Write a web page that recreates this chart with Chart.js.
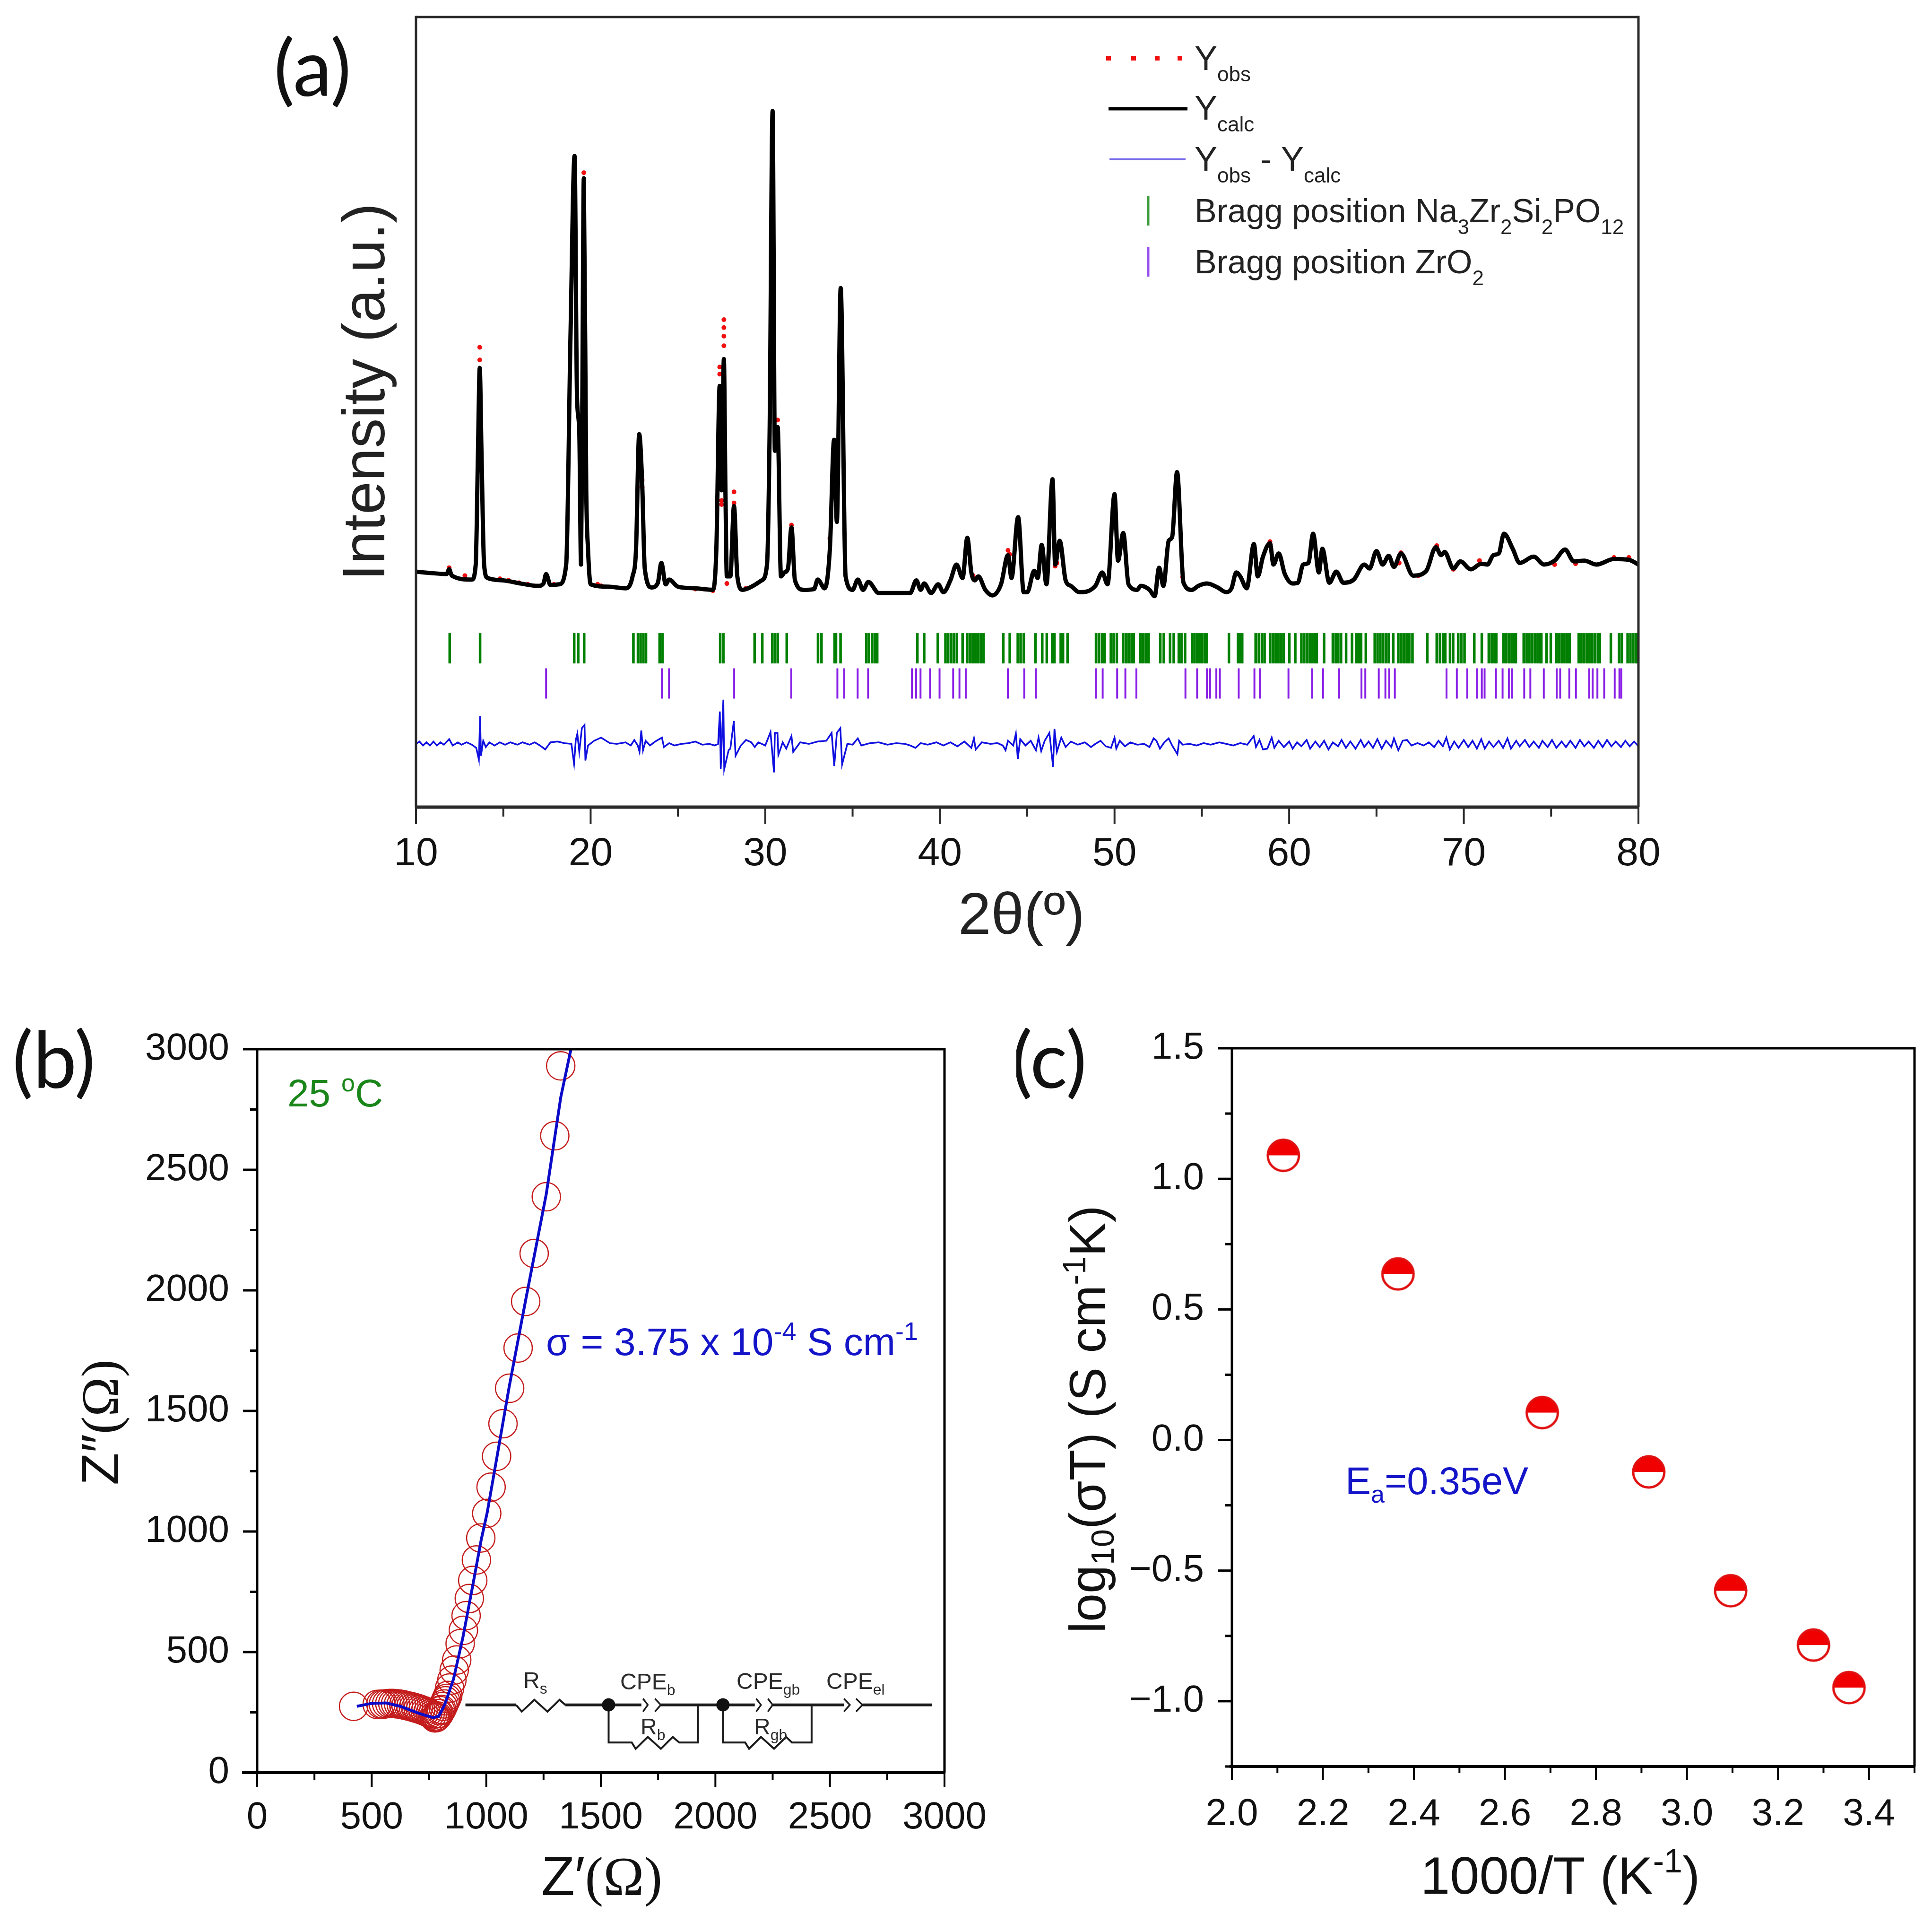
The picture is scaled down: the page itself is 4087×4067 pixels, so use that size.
<!DOCTYPE html>
<html>
<head>
<meta charset="utf-8">
<title>XRD, impedance and Arrhenius plots</title>
<script src="https://cdn.jsdelivr.net/npm/chart.js@4"></script>
<style>
    html, body { margin: 0; padding: 0; background: #fff; }
    #page { position: relative; width: 4087px; height: 4067px; background: #fff; overflow: hidden; }
    canvas { position: absolute; }
</style>
</head>
<body>
<div id="page">
    <canvas id="chartA" width="4087" height="2100" style="left:0;top:0"></canvas>
    <canvas id="chartB" width="2150" height="1967" style="left:0;top:2100px"></canvas>
    <canvas id="chartC" width="1937" height="1967" style="left:2150px;top:2100px"></canvas>
</div>
<script>
// (a) diffraction pattern, y in arbitrary units
const calcPattern = [[10,298],[11,296],[11.75,295],[11.9,301],[12.05,293],[13.2,288],[13.42,307],[13.55,450],[13.65,556],[13.75,450],[13.9,307],[14.1,290],[15,287],[16,283],[17,280],[17.3,283],[17.45,295],[17.7,281],[18.2,282],[18.6,307],[18.85,600],[19.08,824],[19.22,520],[19.35,476],[19.45,307],[19.52,500],[19.61,796],[19.75,400],[19.85,327],[20,282],[21,279],[22,277],[22.4,292],[22.6,327],[22.78,472],[22.95,411],[23.1,302],[23.5,278],[23.85,284],[24.05,309],[24.3,282],[24.5,288],[25,279],[26,277],[27,275],[27.2,327],[27.39,533],[27.5,401],[27.63,567],[27.72,400],[27.8,292],[28,292],[28.21,381],[28.4,292],[28.7,275],[29.3,280],[29.8,287],[30.1,307],[30.25,476],[30.42,881],[30.55,451],[30.71,481],[30.9,292],[31.1,297],[31.3,302],[31.5,354],[31.7,287],[32.2,275],[32.8,276],[33,288],[33.4,277],[33.7,327],[33.94,465],[34.1,361],[34.32,657],[34.6,292],[35,275],[35.3,288],[35.6,275],[35.9,285],[36.5,271],[38.3,271],[38.65,287],[38.9,275],[39.1,283],[39.5,271],[39.9,282],[40.2,272],[40.6,287],[40.95,307],[41.3,290],[41.57,341],[41.8,297],[42,287],[42.2,292],[42.6,275],[43,268],[43.5,282],[43.9,319],[44.1,290],[44.48,367],[44.8,272],[45,272],[45.4,299],[45.6,290],[45.83,332],[46.1,282],[46.45,415],[46.6,307],[46.86,337],[47.2,287],[47.5,280],[48,272],[48.9,280],[49.3,297],[49.6,282],[50,396],[50.2,312],[50.5,347],[50.8,282],[51.3,275],[51.5,280],[52,275],[52.3,267],[52.55,303],[52.8,280],[53.1,337],[53.3,342],[53.58,424],[53.95,284],[54.43,275],[54.8,280],[55.3,283],[55.9,278],[56.4,272],[56.7,277],[56.97,297],[57.2,292],[57.57,277],[57.98,333],[58.2,292],[58.5,317],[58.9,334],[59.1,307],[59.4,321],[59.75,295],[60.2,283],[60.5,284],[60.8,307],[61.1,309],[61.37,346],[61.7,297],[61.9,327],[62.3,284],[62.7,298],[63.1,284],[63.7,288],[64.3,307],[64.6,302],[65,324],[65.35,307],[65.7,318],[66,304],[66.4,321],[67.1,293],[67.85,299],[68.4,329],[68.7,319],[68.9,323],[69.4,302],[69.8,311],[70.4,301],[71,308],[71.35,307],[71.7,319],[72,321],[72.3,346],[72.8,327],[73.2,309],[74,317],[74.6,307],[75.2,312],[75.8,326],[76.3,311],[76.9,312],[77.6,307],[78.6,314],[79.45,313],[80,307]];

// red points that stand clear of the fitted line
const obsPattern = [[11.9,303],[12.8,293],[13.65,582],[13.65,566],[14.8,289],[15.3,287],[15.9,284],[16.4,282],[17.9,282],[19.61,803],[20.4,282],[20.6,280],[22.95,414],[22.95,405],[26,276],[26.5,276],[27,274],[27.39,557],[27.39,548],[27.5,388],[27.5,383],[27.63,617],[27.63,607],[27.63,596],[27.63,584],[27.8,283],[28.21,399],[28.21,385],[28.9,277],[30.71,490],[31.5,357],[33.7,340],[41.9,293],[43.9,325],[44,320],[46.6,305],[46.7,309],[53.9,291],[58.9,336],[66.3,309],[66.4,322],[67.4,293],[68.45,331],[69.4,301],[70.9,312],[75.2,307],[76.4,308],[78.6,316],[79.45,316]];

const diffPattern = [[10,80],[10.2,83],[10.4,78],[10.6,82],[10.8,78],[11,83],[11.2,78],[11.4,82],[11.6,79],[11.9,86],[12.1,78],[12.4,82],[12.6,79],[12.9,82],[13.2,79],[13.45,75],[13.6,60],[13.67,115],[13.72,65],[13.85,84],[14,76],[14.2,82],[14.5,78],[14.8,82],[15.1,79],[15.4,82],[15.8,79],[16.1,82],[16.5,79],[16.8,82],[17.1,78],[17.4,73],[17.7,82],[18.1,83],[18.5,81],[18.9,80],[19.05,55],[19.15,85],[19.24,93],[19.35,70],[19.5,100],[19.65,104],[19.7,59],[19.85,78],[20.2,84],[20.6,88],[21.1,81],[21.5,80],[22,82],[22.3,78],[22.5,85],[22.7,78],[22.8,70],[22.9,97],[23,72],[23.15,84],[23.4,78],[23.7,83],[24.08,88],[24.2,76],[24.5,81],[24.8,78],[25.2,80],[25.6,81],[26,83],[26.4,79],[26.8,80],[27.1,78],[27.3,80],[27.4,121],[27.45,48],[27.6,136],[27.65,48],[27.9,72],[28,74],[28.2,109],[28.3,65],[28.6,78],[28.9,85],[29.2,82],[29.4,76],[29.6,82],[30,78],[30.3,95],[30.5,44],[30.55,94],[30.7,94],[30.75,66],[31,82],[31.2,74],[31.5,90],[31.6,70],[32,82],[32.5,80],[33,83],[33.5,84],[33.8,94],[33.95,52],[34.1,94],[34.3,100],[34.4,54],[34.7,80],[35,79],[35.3,87],[35.5,78],[36,81],[36.5,82],[37,79],[37.5,81],[38,80],[38.3,78],[38.6,75],[38.9,81],[39.3,79],[39.8,82],[40.2,78],[40.6,82],[41,77],[41.4,83],[41.8,75],[41.95,87],[42.05,73],[42.4,82],[42.9,80],[43.3,81],[43.6,78],[43.76,72],[43.9,84],[44.2,78],[44.35,93],[44.46,61],[44.6,86],[44.9,78],[45.2,84],[45.5,72],[45.65,88],[45.8,71],[46,84],[46.27,94],[46.48,51],[46.56,99],[46.7,70],[46.95,88],[47.2,76],[47.5,83],[47.9,79],[48.3,82],[48.65,76],[48.9,80],[49.2,84],[49.5,77],[49.8,75],[50,88],[50.1,74],[50.3,84],[50.6,77],[50.9,82],[51.3,79],[51.7,80],[52,76],[52.24,87],[52.4,84],[52.6,74],[52.85,82],[53.1,87],[53.3,78],[53.6,67],[53.7,84],[53.9,79],[54.3,80],[54.7,78],[55.1,81],[55.5,79],[56,82],[56.4,80],[56.8,78],[57.2,81],[57.6,79],[57.97,90],[58.1,76],[58.3,85],[58.5,73],[58.75,74],[59,88],[59.15,75],[59.4,84],[59.7,76],[60,83],[60.2,74],[60.45,82],[60.7,77],[61,85],[61.2,74],[61.5,83],[61.75,76],[62,84],[62.25,73],[62.5,82],[62.8,77],[63,85],[63.25,75],[63.5,83],[63.8,74],[64.1,85],[64.3,76],[64.55,83],[64.8,75],[65.05,86],[65.3,74],[65.55,84],[65.85,76],[66,87],[66.25,72],[66.5,84],[66.75,85],[67,78],[67.35,81],[67.7,78],[68,82],[68.3,76],[68.55,84],[68.8,77],[69,88],[69.2,73],[69.45,83],[69.7,75],[70,85],[70.25,76],[70.5,84],[70.75,74],[71,86],[71.2,74],[71.45,83],[71.7,76],[72,84],[72.25,75],[72.5,87],[72.7,74],[73,84],[73.2,77],[73.5,85],[73.75,76],[74,83],[74.3,75],[74.5,84],[74.8,76],[75.05,85],[75.3,75],[75.6,83],[75.85,76],[76.1,84],[76.4,75],[76.65,85],[76.9,77],[77.15,83],[77.45,75],[77.7,84],[77.95,76],[78.2,85],[78.45,77],[78.7,83],[79,76],[79.25,84],[79.5,77],[79.75,83],[80,77]];

const braggNasicon = [11.93,13.67,19.06,19.29,19.63,22.45,22.71,22.86,23.02,23.17,23.95,24.11,27.42,27.6,29.39,29.83,30.4,30.55,30.71,31.23,33.02,33.22,33.97,34.05,34.31,35.79,35.94,36.12,36.28,36.41,38.71,39.1,39.88,40.32,40.47,40.63,40.79,40.97,41.3,41.56,41.72,41.87,42.03,42.18,42.34,42.5,43.63,44,44.46,44.62,44.8,45.47,45.86,46.12,46.43,46.56,46.92,47.05,47.31,48.94,49.1,49.28,49.43,49.79,49.95,50.13,50.49,50.65,50.8,50.98,51.1,51.48,51.63,51.79,51.95,52.62,52.82,53.18,53.39,53.68,53.83,54.04,54.44,54.58,54.73,54.87,55.02,55.18,55.29,56.55,57.07,57.2,57.31,58.08,58.26,58.44,58.59,58.91,59.07,59.22,59.38,59.54,59.69,60.01,60.35,60.7,60.86,61.02,61.18,61.33,61.49,61.58,62,62.5,62.66,62.81,62.97,63.26,63.6,63.85,64,64.12,64.39,64.9,65.06,65.22,65.37,65.53,65.69,65.96,66.25,66.41,66.56,66.72,66.88,67.06,67.91,68.45,68.63,68.81,68.94,69.21,69.39,69.68,69.86,70.04,70.6,71.03,71.43,71.59,71.75,71.86,72.27,72.42,72.58,72.74,72.89,72.98,73.43,73.59,73.75,73.9,74.06,74.22,74.38,74.44,74.74,74.98,75.3,75.45,75.61,75.77,75.93,76.06,76.58,76.73,76.89,77.05,77.2,77.36,77.52,77.68,77.79,78.42,78.89,79.05,79.38,79.54,79.7,79.85,79.94];

const braggZirconia = [17.45,24.08,24.49,28.22,31.49,34.13,34.52,35.29,35.89,38.4,38.64,38.89,39.44,39.98,40.76,41.12,41.48,43.89,44.83,45.5,48.94,49.32,50.15,50.62,51.25,54.06,54.73,55.29,55.47,55.83,56.03,57.11,58.01,58.32,59.96,61.31,61.94,62.86,64.14,64.36,65.13,65.51,65.73,66.05,69.01,69.6,70.2,70.76,71.03,71.19,71.84,72.22,72.58,72.76,73.46,73.81,74.58,75.32,75.52,76.04,76.42,77.18,77.38,77.65,78.04,78.64,78.91,79.02];

// (b) Nyquist plot
const nyquistPoints = [[421,275],[524,283],[540,284],[551,284],[565,286],[579,287],[592,287],[604,286],[617,285],[629,283],[640,281],[650,278],[661,276],[671,274],[682,271],[692,268],[703,265],[713,262],[724,258],[734,254],[745,250],[755,245],[764,240],[772,234],[776,227],[780,228],[783,230],[787,235],[789,245],[795,245],[800,257],[805,262],[811,275],[816,285],[822,298],[827,308],[832,320],[840,351],[850,384],[860,425],[871,467],[886,535],[900,590],[912,651],[926,722],[941,797],[957,882],[976,973],[1002,1075],[1021,1184],[1045,1312],[1073,1447],[1102,1594],[1139,1761],[1172,1954],[1209,2153],[1262,2388],[1299,2641],[1325,2931]];
const nyquistFit = [[435,275],[498,287],[562,289],[625,275],[709,245],[768,228],[793,234],[819,283],[857,388],[898,561],[940,771],[978,966],[1004,1078],[1045,1300],[1100,1600],[1172,1960],[1262,2400],[1325,2800],[1370,3002]];

// equivalent circuit inset, drawn in the same Z axes
const circuitWires = [
    [[909,281],[1130,281]],
    [[1345,281],[1677,281]],
    [[1762,281],[2172,281]],
    [[2250,281],[2561,281]],
    [[2642,281],[2945,281]]
];
const circuitBranches = [
    [[1130,281],[1155,253],[1210,302],[1267,253],[1320,302],[1345,281]],
    [[1534,281],[1534,125],[1635,125],[1652,99],[1705,148],[1762,99],[1814,148],[1842,125],[1924,125],[1924,281]],
    [[2033,281],[2033,125],[2130,125],[2147,99],[2199,148],[2256,99],[2309,148],[2334,125],[2420,125],[2420,281]]
];
const circuitChevrons = [
    [[1684,307],[1705,281],[1684,253]],
    [[1736,307],[1762,281],[1736,253]],
    [[2178,307],[2199,281],[2178,253]],
    [[2229,307],[2250,281],[2229,253]],
    [[2561,307],[2587,281],[2561,253]],
    [[2614,307],[2642,281],[2614,253]]
];
const circuitNodes = [[1534,281],[2033,281]];

// (c) Arrhenius plot
const inverseTemp = [2.113, 2.365, 2.682, 2.916, 3.096, 3.278, 3.356];
const logSigmaT = [1.09, 0.636, 0.105, -0.122, -0.577, -0.785, -0.948];

const SANS = '"Liberation Sans", Arial, sans-serif';
const SERIF = '"Liberation Serif", "Times New Roman", serif';
const BLUE = '#1414c8';

// writes a row of text pieces one after the other, for sub and superscripts
function drawRuns(ctx, x, y, runs, angle) {
    ctx.save();
    ctx.translate(x, y);
    if (angle) ctx.rotate(angle);
    ctx.textAlign = 'left';
    ctx.textBaseline = 'alphabetic';
    let cx = 0;
    runs.forEach(r => {
        ctx.font = `${r.size}px ${r.family || SANS}`;
        ctx.fillStyle = r.color;
        ctx.fillText(r.t, cx, r.dy || 0);
        cx += ctx.measureText(r.t).width;
    });
    ctx.restore();
}

function segment(ctx, x1, y1, x2, y2, color, width) {
    ctx.strokeStyle = color;
    ctx.lineWidth = width;
    ctx.beginPath();
    ctx.moveTo(x1, y1);
    ctx.lineTo(x2, y2);
    ctx.stroke();
}

// frame and long/short tick marks; labelled ticks of the scale get the long mark
function framePlugin(p) {
    return {
        id: 'frame' + p.left,
        afterDatasetsDraw(chart) {
            const ctx = chart.ctx;
            const a = chart.chartArea;
            ctx.save();
            ctx.lineCap = 'butt';
            segment(ctx, a.left, a.top, a.right, a.top, p.color, p.frame);
            segment(ctx, a.right, a.top - p.frame / 2, a.right, a.bottom, p.color, p.frame);
            segment(ctx, a.left, a.top - p.frame / 2, a.left, a.bottom, p.color, p.frame);
            segment(ctx, a.left - p.overhang, a.bottom, a.right, a.bottom, p.color, p.base);
            chart.scales.x.ticks.forEach(t => {
                const px = chart.scales.x.getPixelForValue(t.value);
                const len = t.label !== '' ? p.major : p.minor;
                segment(ctx, px, a.bottom, px, a.bottom + len, p.color, p.tick);
            });
            if (p.yTicks) {
                chart.scales.y.ticks.forEach(t => {
                    const py = chart.scales.y.getPixelForValue(t.value);
                    const len = t.label !== '' ? p.major : p.minor;
                    segment(ctx, a.left - len, py, a.left, py, p.color, p.tick + 1);
                });
            }
            ctx.restore();
        },
        afterDraw(chart) {
            const ctx = chart.ctx;
            ctx.save();
            ctx.translate(-p.left, -p.top);
            p.decorate(ctx);
            ctx.restore();
        }
    };
}

function baseOptions(x, y, sizes) {
    return {
        responsive: false,
        animation: false,
        events: [],
        layout: {
            autoPadding: false,
            padding: { left: 0, top: sizes.top, right: sizes.right, bottom: 0 }
        },
        plugins: { legend: { display: false }, tooltip: { enabled: false } },
        scales: {
            x: {
                type: 'linear',
                min: x.min, max: x.max,
                grid: { display: false, drawTicks: false },
                border: { display: false },
                afterFit(axis) {
                    axis.height = sizes.bottom;
                    axis.paddingLeft = 0;
                    axis.paddingRight = 0;
                },
                afterBuildTicks(axis) { axis.ticks = x.ticks.map(v => ({ value: v })); },
                ticks: {
                    autoSkip: false, maxRotation: 0, minRotation: 0,
                    padding: x.padding, color: '#111',
                    font: { family: SANS, size: x.fontSize },
                    callback: x.label
                }
            },
            y: {
                type: 'linear',
                min: y.min, max: y.max,
                grid: { display: false, drawTicks: false },
                border: { display: false },
                afterFit(axis) {
                    axis.width = sizes.left;
                    axis.paddingTop = 0;
                    axis.paddingBottom = 0;
                },
                afterBuildTicks(axis) { axis.ticks = y.ticks.map(v => ({ value: v })); },
                ticks: {
                    display: y.show, autoSkip: false,
                    padding: y.padding, color: '#111',
                    font: { family: SANS, size: y.fontSize },
                    callback: y.label
                }
            }
        }
    };
}

// tick values of the three panels
const xTicksA = [10,15,20,25,30,35,40,45,50,55,60,65,70,75,80];
const xTicksB = [0,250,500,750,1000,1250,1500,1750,2000,2250,2500,2750,3000];
const yTicksB = [0,250,500,750,1000,1250,1500,1750,2000,2250,2500,2750,3000];
const xTicksC = [2.0,2.1,2.2,2.3,2.4,2.5,2.6,2.7,2.8,2.9,3.0,3.1,3.2,3.3,3.4,3.5];
const yTicksC = [-1.25,-1.0,-0.75,-0.5,-0.25,0,0.25,0.5,0.75,1.0,1.25,1.5];

// ---------- (a)
function decorateA(ctx) {
    const K = '#222';
    drawRuns(ctx, 813, 1228, [{ t: 'Intensity (a.u.)', size: 126, color: '#222' }], -Math.PI / 2);
    drawRuns(ctx, 2027, 1975, [
        { t: '2', size: 125, color: K },
        { t: 'θ', size: 125, color: K },
        { t: '(º)', size: 125, color: K }
    ]);
    drawRuns(ctx, 579, 203, [{ t: '(a)', size: 165, family: 'Lato, sans-serif', color: '#111' }]);

    // legend
    ctx.save();
    ctx.fillStyle = '#f01010';
    [2345, 2398, 2448, 2496].forEach(x => ctx.fillRect(x - 5, 118, 10, 10));
    segment(ctx, 2345, 230, 2512, 230, '#000', 7);
    segment(ctx, 2347, 337, 2508, 337, '#7468e8', 4);
    segment(ctx, 2429, 415, 2429, 477, '#3c9c3c', 5);
    segment(ctx, 2429, 522, 2429, 585, '#9650f0', 5);
    ctx.restore();
    drawRuns(ctx, 2527, 148, [{ t: 'Y', size: 72, color: K }, { t: 'obs', size: 44, dy: 24, color: K }]);
    drawRuns(ctx, 2527, 253, [{ t: 'Y', size: 72, color: K }, { t: 'calc', size: 44, dy: 25, color: K }]);
    drawRuns(ctx, 2527, 361, [
        { t: 'Y', size: 72, color: K }, { t: 'obs', size: 44, dy: 25, color: K },
        { t: ' - Y', size: 72, color: K }, { t: 'calc', size: 44, dy: 25, color: K }
    ]);
    drawRuns(ctx, 2527, 470, [
        { t: 'Bragg position Na', size: 70, color: K }, { t: '3', size: 44, dy: 25, color: K },
        { t: 'Zr', size: 70, color: K }, { t: '2', size: 44, dy: 25, color: K },
        { t: 'Si', size: 70, color: K }, { t: '2', size: 44, dy: 25, color: K },
        { t: 'PO', size: 70, color: K }, { t: '12', size: 44, dy: 25, color: K }
    ]);
    drawRuns(ctx, 2527, 578, [
        { t: 'Bragg position ZrO', size: 70, color: K }, { t: '2', size: 44, dy: 25, color: K }
    ]);
}

new Chart(document.getElementById('chartA'), {
    type: 'scatter',
    data: {
        datasets: [
            { data: calcPattern, showLine: true, borderColor: '#000', borderWidth: 9, pointRadius: 0, borderJoinStyle: 'round', cubicInterpolationMode: 'monotone', order: 1 },
            { data: obsPattern, showLine: false, pointRadius: 5, pointBorderWidth: 0, pointBackgroundColor: '#f01010', order: 2 },
            { data: diffPattern, showLine: true, borderColor: '#1010e0', borderWidth: 3.5, pointRadius: 0, order: 3 },
            { data: braggNasicon.map(v => [v, 201]), showLine: false, pointStyle: 'line', pointRotation: 90, pointRadius: 32, pointBorderWidth: 5.5, pointBorderColor: '#008000', order: 4 },
            { data: braggZirconia.map(v => [v, 156.5]), showLine: false, pointStyle: 'line', pointRotation: 90, pointRadius: 32, pointBorderWidth: 4, pointBorderColor: '#8a20e6', order: 5 }
        ]
    },
    options: baseOptions(
        { min: 10, max: 80, ticks: xTicksA, padding: 49, fontSize: 84, label: v => (v % 10 === 0 ? String(v) : '') },
        { min: 0, max: 1000, ticks: [], show: false, padding: 0, fontSize: 10, label: () => '' },
        { left: 880, right: 621, top: 36, bottom: 393 }
    ),
    plugins: [framePlugin({ left: 0, top: 0, color: '#2a2a2a', frame: 5, base: 7, tick: 4, major: 36, minor: 20, overhang: 0, yTicks: false, decorate: decorateA })]
});

// ---------- (b)
function decorateB(ctx) {
    const K = '#111';
    const C = '#2a2a2a';
    drawRuns(ctx, 26, 2301, [{ t: '(b)', size: 165, family: 'Lato, sans-serif', color: K }]);
    drawRuns(ctx, 608, 2340, [
        { t: '25 ', size: 82, color: '#1a861a' },
        { t: 'o', size: 52, dy: -32, color: '#1a861a' },
        { t: 'C', size: 82, color: '#1a861a' }
    ]);
    drawRuns(ctx, 1155, 2866, [
        { t: 'σ = 3.75 x 10', size: 82, color: BLUE },
        { t: '-4', size: 54, dy: -32, color: BLUE },
        { t: ' S cm', size: 82, color: BLUE },
        { t: '-1', size: 54, dy: -32, color: BLUE }
    ]);
    drawRuns(ctx, 1145, 4008, [
        { t: 'Z′', size: 116, color: K },
        { t: '(Ω)', size: 116, family: SERIF, color: K }
    ]);
    drawRuns(ctx, 250, 3141, [
        { t: 'Z″', size: 112, color: K },
        { t: '(Ω)', size: 112, family: SERIF, color: K }
    ], -Math.PI / 2);
    // labels of the circuit inset
    [
        [1107, 3570, 'R', 's'], [1312, 3573, 'CPE', 'b'], [1355, 3668, 'R', 'b'],
        [1558, 3572, 'CPE', 'gb'], [1595, 3668, 'R', 'gb'], [1748, 3572, 'CPE', 'el']
    ].forEach(([x, y, main, sub]) => {
        drawRuns(ctx, x, y, [{ t: main, size: 48, color: C }, { t: sub, size: 32, dy: 12, color: C }]);
    });
}

const circuitSets = circuitWires.map(seg => ({ data: seg, showLine: true, borderColor: '#1a1a1a', borderWidth: 6, pointRadius: 0, order: 6 }))
    .concat(circuitBranches.map(seg => ({ data: seg, showLine: true, borderColor: '#1a1a1a', borderWidth: 4, pointRadius: 0, order: 6 })))
    .concat(circuitChevrons.map(seg => ({ data: seg, showLine: true, borderColor: '#1a1a1a', borderWidth: 3.5, pointRadius: 0, order: 6 })));

new Chart(document.getElementById('chartB'), {
    type: 'scatter',
    data: {
        datasets: [
            { data: nyquistFit, showLine: true, borderColor: '#0a0ac8', borderWidth: 6, pointRadius: 0, order: 1 },
            { data: nyquistPoints, showLine: false, pointRadius: 30, pointBorderWidth: 2.5, pointBorderColor: '#c41c1c', pointBackgroundColor: 'rgba(0,0,0,0)', order: 2 },
            { data: circuitNodes, showLine: false, pointRadius: 14, pointBorderWidth: 0, pointBackgroundColor: '#111', order: 3 }
        ].concat(circuitSets)
    },
    options: baseOptions(
        { min: 0, max: 3000, ticks: xTicksB, padding: 48, fontSize: 80, label: v => (v % 500 === 0 ? String(v) : '') },
        { min: 0, max: 3000, ticks: yTicksB, show: true, padding: 59, fontSize: 80, label: v => (v % 500 === 0 ? String(v) : '') },
        { left: 544, right: 152, top: 119, bottom: 318 }
    ),
    plugins: [framePlugin({ left: 0, top: 2100, color: '#000', frame: 5, base: 6, tick: 4, major: 30, minor: 15, overhang: 32, yTicks: true, decorate: decorateB })]
});

// ---------- (c)
function halfDisc() {
    const c = document.createElement('canvas');
    c.width = 80;
    c.height = 80;
    const g = c.getContext('2d');
    g.beginPath();
    g.arc(40, 40, 33, 0, Math.PI * 2);
    g.fillStyle = '#fff';
    g.fill();
    g.beginPath();
    g.arc(40, 40, 34, Math.PI, 0);
    g.closePath();
    g.fillStyle = '#f00000';
    g.fill();
    g.beginPath();
    g.arc(40, 40, 33, 0, Math.PI * 2);
    g.strokeStyle = '#e01010';
    g.lineWidth = 5;
    g.stroke();
    return c;
}

function decorateC(ctx) {
    const K = '#111';
    drawRuns(ctx, 2140, 2301, [{ t: '(c)', size: 165, family: 'Lato, sans-serif', color: K }]);
    drawRuns(ctx, 2846, 3160, [
        { t: 'E', size: 81, color: BLUE }, { t: 'a', size: 52, dy: 18, color: BLUE },
        { t: '=0.35eV', size: 81, color: BLUE }
    ]);
    drawRuns(ctx, 3005, 4005, [
        { t: '1000/T (K', size: 112, color: K }, { t: '-1', size: 70, dy: -45, color: K }, { t: ')', size: 112, color: K }
    ]);
    drawRuns(ctx, 2338, 3454, [
        { t: 'log', size: 108, color: K }, { t: '10', size: 68, dy: 18, color: K },
        { t: '(σT) (S cm', size: 108, color: K }, { t: '-1', size: 68, dy: -42, color: K },
        { t: 'K)', size: 108, color: K }
    ], -Math.PI / 2);
}

new Chart(document.getElementById('chartC'), {
    type: 'scatter',
    data: {
        datasets: [
            { data: inverseTemp.map((v, i) => [v, logSigmaT[i]]), showLine: false, pointStyle: halfDisc(), pointRadius: 34 }
        ]
    },
    options: baseOptions(
        { min: 2.0, max: 3.5, ticks: xTicksC, padding: 54, fontSize: 80, label: v => (Math.round(v * 10) % 2 === 0 && v < 3.45 ? v.toFixed(1) : '') },
        { min: -1.25, max: 1.5, ticks: yTicksC, show: true, padding: 59, fontSize: 80, label: v => (Math.round(v * 100) % 50 === 0 ? v.toFixed(1).replace('-', '−') : '') },
        { left: 456, right: 37, top: 117, bottom: 331 }
    ),
    plugins: [framePlugin({ left: 2150, top: 2100, color: '#000', frame: 5, base: 6, tick: 4, major: 29, minor: 14, overhang: 5, yTicks: true, decorate: decorateC })]
});
</script>
</body>
</html>
